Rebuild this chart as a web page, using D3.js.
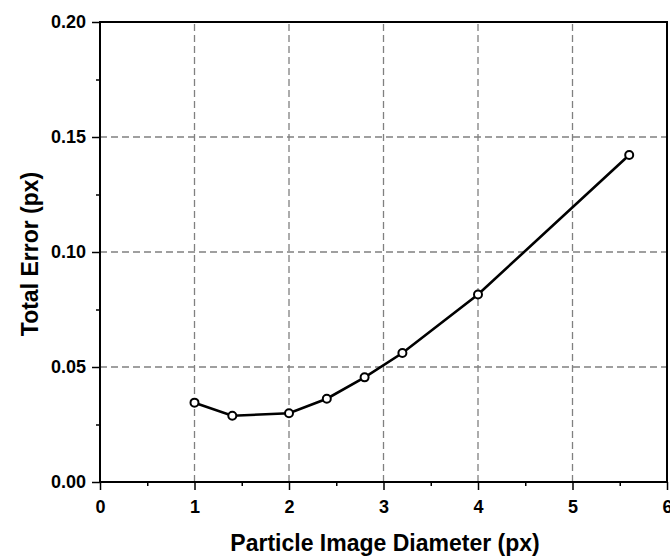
<!DOCTYPE html>
<html>
<head>
<meta charset="utf-8">
<script src="https://cdn.jsdelivr.net/npm/d3@7"></script>
<style>
  body { margin: 0; background: #fff; }
  svg { display: block; font-family: "Liberation Sans", Arial, sans-serif; }
  .grid line { stroke: #808080; stroke-width: 1.3; stroke-dasharray: 7 4; }
  .tick-label { font-size: 18px; font-weight: bold; fill: #000; }
  .axis-title { font-size: 23px; font-weight: bold; fill: #000; }
</style>
</head>
<body>
<script>
// data
const diameters = [1, 1.4, 2, 2.4, 2.8, 3.2, 4, 5.6];
const totalError = [0.0345, 0.0288, 0.0299, 0.0362, 0.0455, 0.0561, 0.0815, 0.1422];
const xTicks = [0, 1, 2, 3, 4, 5, 6];
const yTicks = [0, 0.05, 0.10, 0.15, 0.20];

const width = 670, height = 556;
const margin = { left: 100, right: 3, top: 22, bottom: 74 };

const x = d3.scaleLinear().domain([0, 6]).range([margin.left, width - margin.right]);
const y = d3.scaleLinear().domain([0, 0.2]).range([height - margin.bottom, margin.top]);

const svg = d3.select("body").append("svg")
  .attr("width", width)
  .attr("height", height);

// dashed grid
const grid = svg.append("g").attr("class", "grid");
grid.selectAll(".gx")
  .data(xTicks.filter(d => d > 0 && d < 6))
  .join("line")
  .attr("x1", d => x(d)).attr("x2", d => x(d))
  .attr("y1", y(0)).attr("y2", y(0.2));
grid.selectAll(".gy")
  .data(yTicks.filter(d => d > 0 && d < 0.2))
  .join("line")
  .attr("x1", x(0)).attr("x2", x(6))
  .attr("y1", d => y(d)).attr("y2", d => y(d));

// axes
const xAxis = d3.axisBottom(x).tickValues(xTicks).tickSize(8).tickFormat(d3.format("d"));
const xMinor = d3.axisBottom(x).tickValues(d3.range(0.5, 6, 1)).tickSize(4).tickFormat("");
const yAxis = d3.axisLeft(y).tickValues(yTicks).tickSize(8).tickFormat(d3.format(".2f"));
const yMinor = d3.axisLeft(y).tickValues(d3.range(0.025, 0.2, 0.05)).tickSize(4).tickFormat("");

function styleAxis(g) {
  g.select(".domain").remove();
  g.selectAll(".tick line").attr("stroke", "#000").attr("stroke-width", 1.5);
  g.selectAll(".tick text").attr("class", "tick-label");
}

svg.append("g").attr("transform", `translate(0,${y(0)})`).call(xAxis).call(styleAxis)
  .selectAll("text").attr("dy", "0.71em").attr("y", 18);
svg.append("g").attr("transform", `translate(0,${y(0)})`).call(xMinor).call(styleAxis);
svg.append("g").attr("transform", `translate(${x(0)},0)`).call(yAxis).call(styleAxis)
  .selectAll("text").attr("x", -14);
svg.append("g").attr("transform", `translate(${x(0)},0)`).call(yMinor).call(styleAxis);

// frame
svg.append("rect")
  .attr("x", x(0)).attr("y", y(0.2))
  .attr("width", x(6) - x(0)).attr("height", y(0) - y(0.2))
  .attr("fill", "none").attr("stroke", "#000").attr("stroke-width", 2);

// series
const pts = diameters.map((d, i) => [d, totalError[i]]);
svg.append("path")
  .datum(pts)
  .attr("fill", "none")
  .attr("stroke", "#000")
  .attr("stroke-width", 2.6)
  .attr("d", d3.line().x(d => x(d[0])).y(d => y(d[1])));

svg.selectAll(".pt")
  .data(pts)
  .join("circle")
  .attr("cx", d => x(d[0]))
  .attr("cy", d => y(d[1]))
  .attr("r", 4)
  .attr("fill", "#fff")
  .attr("stroke", "#000")
  .attr("stroke-width", 2);

// titles
svg.append("text")
  .attr("class", "axis-title")
  .attr("x", 385)
  .attr("y", 551)
  .attr("text-anchor", "middle")
  .text("Particle Image Diameter (px)");

svg.append("text")
  .attr("class", "axis-title")
  .attr("transform", `translate(38,${(y(0) + y(0.2)) / 2 + 2}) rotate(-90)`)
  .attr("text-anchor", "middle")
  .text("Total Error (px)");
</script>
</body>
</html>
